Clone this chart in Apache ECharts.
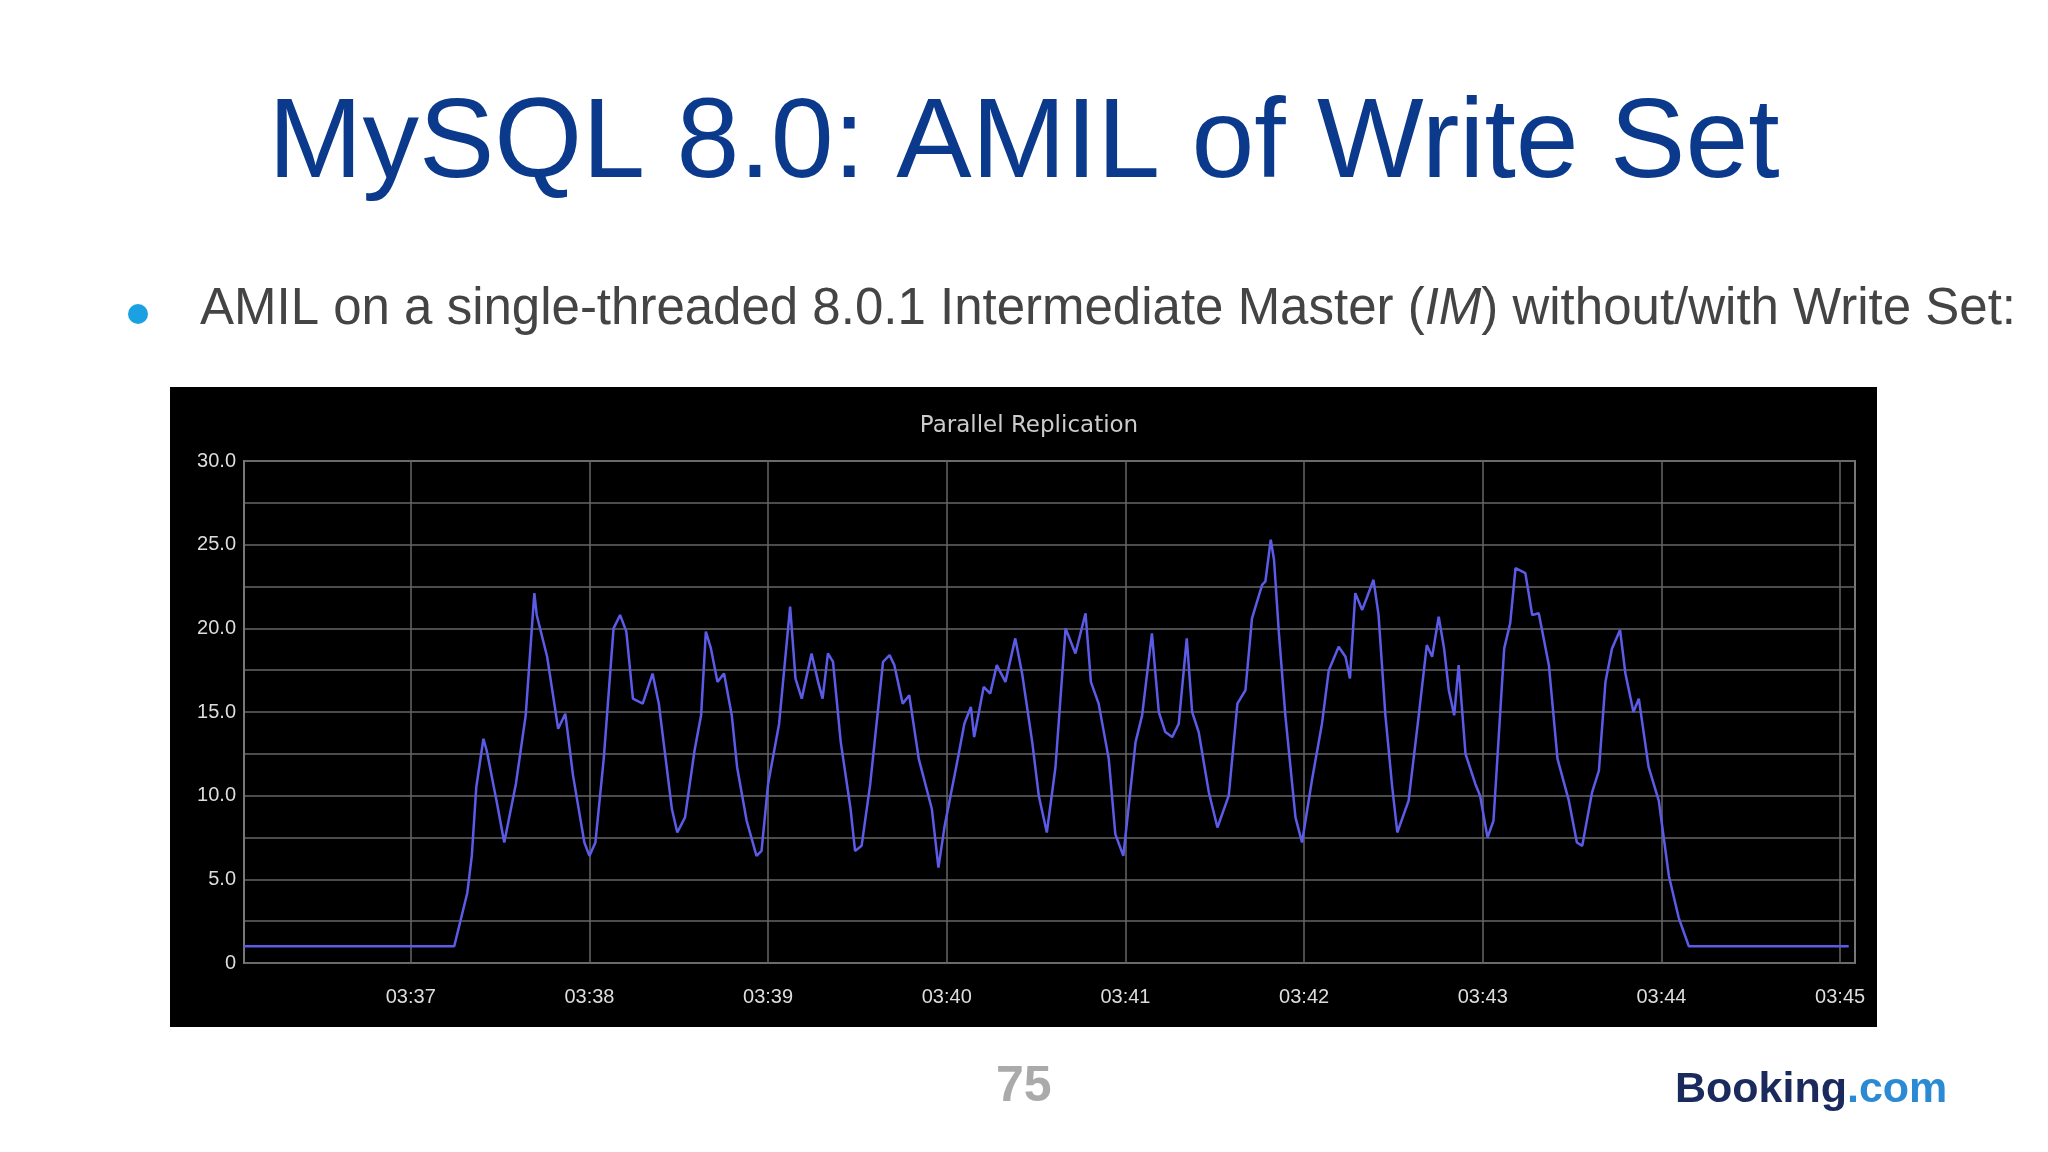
<!DOCTYPE html>
<html>
<head>
<meta charset="UTF-8">
<title>MySQL 8.0: AMIL of Write Set</title>
<script src="https://cdn.jsdelivr.net/npm/echarts@6/dist/echarts.min.js"></script>
<style>
  html, body { margin: 0; padding: 0; background: #fff; }
  #main { width: 2048px; height: 1152px; }
</style>
</head>
<body>
<div id="main"></div>
<script>
// seconds after 03:36:00
var seconds = [4, 74.6, 79, 80.5, 82, 84.4, 85.5, 88.8, 91.4, 95.3, 98.6, 101.5, 102.3, 105.8, 109.5, 111.9,
  114.5, 118.3, 120, 122, 124.8, 128.1, 130.3, 132.4, 134.6, 137.9, 141.2, 143.3, 147.7, 149.5, 152.1, 155.3,
  157.5, 159.1, 160.8, 163, 165.2, 167.8, 169.6, 172.8, 176.1, 177.8, 180, 183.7, 187.4, 189.2, 191.3, 194.6,
  196.8, 198.3, 200.1, 201.8, 204.4, 207.7, 209.2, 211.4, 214.3, 218.6, 220.8, 222.4, 225.2, 227.4, 230.6, 235,
  237.2, 239.3, 243.7, 245.9, 248.1, 249.2, 252.4, 254.6, 256.8, 259.7, 263, 265.3, 268.7, 270.9, 273.6, 276.5,
  279.9, 283.2, 286.6, 288.4, 291, 294.4, 296.6, 299.3, 303.4, 305.6, 308.9, 311.2, 313.4, 315.7, 317.9, 320.6,
  322.4, 324.6, 328, 330.9, 334.7, 337.6, 340.3, 342.5, 345.9, 347, 348.8, 349.9, 351.5, 353.7, 357.1, 359.3,
  362.7, 366, 368.3, 371.6, 373.9, 375.4, 377.2, 379.5, 381, 383.3, 385, 387.3, 389.6, 391.3, 395.1, 398.5,
  401.2, 403, 405.2, 407, 408.6, 410.4, 411.9, 414.2, 417.5, 419.1, 421.6, 423.6, 427.2, 429.2, 431, 434.3,
  436.6, 438.8, 442.2, 445.1, 448.9, 451.6, 453.4, 456.7, 459, 461.2, 463.4, 466.1, 467.9, 470.6, 472.4, 475.7,
  479.1, 482.5, 485.8, 489.2, 542.9];
var workers = [1.0, 1.0, 4.2, 6.4, 10.5, 13.4, 12.7, 9.7, 7.2, 10.7, 14.8, 22.1, 20.8, 18.3, 14.0, 14.9,
  11.2, 7.2, 6.4, 7.2, 12.2, 20.0, 20.8, 19.8, 15.8, 15.5, 17.3, 15.5, 9.2, 7.8, 8.7, 12.7,
  14.8, 19.8, 18.8, 16.8, 17.3, 14.8, 11.7, 8.5, 6.4, 6.7, 10.7, 14.3, 21.3, 17.0, 15.8, 18.5,
  16.8, 15.8, 18.5, 18.0, 13.2, 9.2, 6.7, 7.0, 10.7, 18.0, 18.4, 17.8, 15.5, 16.0, 12.2, 9.2,
  5.7, 8.2, 12.2, 14.3, 15.3, 13.5, 16.5, 16.1, 17.8, 16.8, 19.4, 17.3, 13.2, 10.0, 7.8, 11.7,
  20.0, 18.5, 20.9, 16.8, 15.5, 12.2, 7.7, 6.4, 13.2, 14.8, 19.7, 15.0, 13.8, 13.5, 14.3, 19.4,
  15.0, 13.8, 10.2, 8.1, 10.0, 15.5, 16.3, 20.6, 22.6, 22.8, 25.3, 24.1, 19.8, 14.8, 8.7, 7.2,
  11.0, 14.3, 17.5, 18.9, 18.3, 17.0, 22.1, 21.1, 21.8, 22.9, 20.8, 14.8, 10.5, 7.8, 9.7, 14.8,
  19.0, 18.3, 20.7, 18.8, 16.3, 14.8, 17.8, 12.5, 10.7, 10.0, 7.5, 8.5, 18.8, 20.3, 23.6, 23.3,
  20.8, 20.9, 17.8, 12.2, 9.7, 7.2, 7.0, 10.2, 11.5, 16.8, 18.8, 19.9, 17.3, 15.0, 15.8, 11.7,
  9.7, 5.2, 2.7, 1.0, 1.0];
var minuteTicks = [60, 120, 180, 240, 300, 360, 420, 480, 540];
var minuteLabels = ['03:37', '03:38', '03:39', '03:40', '03:41', '03:42', '03:43', '03:44', '03:45'];

var points = seconds.map(function (s, i) { return [s, workers[i]]; });

var myChart = echarts.init(document.getElementById('main'));
myChart.setOption({
    backgroundColor: '#fff',
    title: [{
        text: 'MySQL 8.0: AMIL of Write Set',
        left: 'center', top: 84,
        textStyle: { color: '#0b3a8c', fontSize: 113, fontWeight: 'normal', fontFamily: 'Liberation Sans' }
    }, {
        text: 'Parallel Replication',
        left: 1024, top: 410, textAlign: 'center',
        textStyle: { color: '#ccc', fontSize: 23, fontWeight: 'normal', fontFamily: 'DejaVu Sans' }
    }],
    graphic: [
        { type: 'rect', z: -10, shape: { x: 170, y: 387, width: 1707, height: 640 }, style: { fill: '#000' } },
        { type: 'circle', shape: { cx: 138, cy: 314, r: 10 }, style: { fill: '#1ba1e2' } },
        { type: 'text', left: 200, top: 284, style: {
            rich: { n: { fontSize: 51, fill: '#444', fontFamily: 'Liberation Sans' },
                    i: { fontSize: 51, fill: '#444', fontFamily: 'Liberation Sans', fontStyle: 'italic' } },
            text: '{n|AMIL on a single-threaded 8.0.1 Intermediate Master (}{i|IM}{n|) without/with Write Set:}' } },
        { type: 'text', left: 996, top: 1062, style: { text: '75', fontSize: 50, fontWeight: 'bold', fill: '#aaa', fontFamily: 'Liberation Sans' } },
        { type: 'text', left: 1675, top: 1069, style: {
            rich: { b: { fontSize: 43, fontWeight: 'bold', fill: '#1b2a5c', fontFamily: 'Liberation Sans' },
                    c: { fontSize: 43, fontWeight: 'bold', fill: '#2a8ad4', fontFamily: 'Liberation Sans' } },
            text: '{b|Booking}{c|.com}' } }
    ],
    grid: { left: 244, right: 193, top: 461, bottom: 189, show: true, borderColor: '#777', borderWidth: 2 },
    xAxis: {
        type: 'value', min: 4, max: 545,
        axisLine: { show: false },
        axisTick: { show: false, customValues: minuteTicks },
        axisLabel: {
            customValues: minuteTicks, color: '#ddd', fontSize: 20, margin: 24,
            formatter: function (v) { return minuteLabels[minuteTicks.indexOf(Math.round(v))] || ''; }
        },
        splitLine: { show: true, lineStyle: { color: '#666', width: 1.5 } }
    },
    yAxis: {
        type: 'value', min: 0, max: 30, interval: 2.5,
        axisLine: { show: true, lineStyle: { color: '#777', width: 2 } },
        axisTick: { show: false },
        axisLabel: {
            color: '#ddd', fontSize: 20, margin: 8,
            formatter: function (v) { return v % 5 !== 0 ? '' : (v === 0 ? '0' : v.toFixed(1)); }
        },
        splitLine: { lineStyle: { color: '#666', width: 1.5 } }
    },
    series: [{
        type: 'line', data: points, symbol: 'none',
        lineStyle: { color: '#5b5be8', width: 2.5 }
    }]
});
</script>
</body>
</html>
